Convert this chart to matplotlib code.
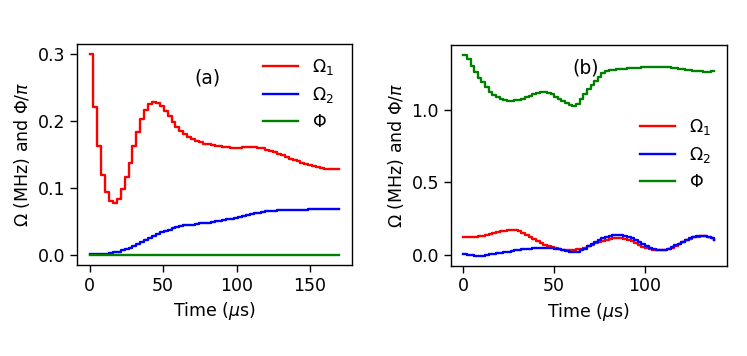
import numpy as np
import matplotlib
matplotlib.use("Agg")
import matplotlib.pyplot as plt

# ---------------- data: panel (a) ----------------
dt_a = 170.0 / 64
omega1_a = [0.300, 0.221, 0.163, 0.120, 0.094, 0.080, 0.077, 0.083, 0.098, 0.117,
            0.138, 0.162, 0.183, 0.203, 0.217, 0.225, 0.228, 0.227, 0.222, 0.215,
            0.207, 0.198, 0.191, 0.185, 0.180, 0.176, 0.173, 0.170, 0.168, 0.166,
            0.165, 0.164, 0.163, 0.162, 0.161, 0.161, 0.160, 0.160, 0.160, 0.161,
            0.161, 0.161, 0.161, 0.160, 0.159, 0.157, 0.155, 0.153, 0.151, 0.149,
            0.146, 0.144, 0.142, 0.140, 0.138, 0.136, 0.134, 0.133, 0.131, 0.130,
            0.129, 0.128, 0.128, 0.128, 0.128]
omega2_a = [0.001, 0.001, 0.001, 0.001, 0.002, 0.003, 0.004, 0.005, 0.007, 0.009,
            0.011, 0.013, 0.016, 0.019, 0.022, 0.025, 0.028, 0.031, 0.034, 0.036,
            0.038, 0.040, 0.042, 0.043, 0.044, 0.045, 0.045, 0.046, 0.047, 0.047,
            0.048, 0.049, 0.050, 0.051, 0.052, 0.053, 0.054, 0.055, 0.057, 0.058,
            0.060, 0.061, 0.062, 0.063, 0.064, 0.065, 0.066, 0.066, 0.067, 0.067,
            0.067, 0.067, 0.067, 0.067, 0.067, 0.067, 0.068, 0.068, 0.068, 0.068,
            0.068, 0.068, 0.068, 0.068, 0.069]
phi_a = [0.0] * 65

# ---------------- data: panel (b) ----------------
dt_b = 2.0
omega1_b = [0.128, 0.127, 0.126, 0.127, 0.130, 0.135, 0.141, 0.148, 0.154, 0.160,
            0.165, 0.169, 0.171, 0.172, 0.170, 0.165, 0.155, 0.142, 0.127, 0.112,
            0.098, 0.085, 0.073, 0.063, 0.055, 0.048, 0.043, 0.039, 0.037, 0.036,
            0.037, 0.040, 0.045, 0.052, 0.061, 0.071, 0.082, 0.092, 0.101, 0.108,
            0.114, 0.118, 0.119, 0.118, 0.113, 0.105, 0.095, 0.083, 0.071, 0.059,
            0.049, 0.041, 0.036, 0.034, 0.035, 0.037, 0.043, 0.052, 0.064, 0.077,
            0.090, 0.102, 0.113, 0.122, 0.128, 0.131, 0.130, 0.125, 0.115, 0.103]
omega2_b = [0.007, 0.004, 0.001, -0.002, -0.003, -0.002, 0.001, 0.005, 0.009, 0.013,
            0.017, 0.021, 0.025, 0.029, 0.033, 0.037, 0.040, 0.043, 0.046, 0.048,
            0.050, 0.051, 0.052, 0.051, 0.049, 0.045, 0.040, 0.034, 0.027, 0.022,
            0.020, 0.024, 0.033, 0.045, 0.060, 0.076, 0.092, 0.106, 0.118, 0.128,
            0.135, 0.139, 0.140, 0.139, 0.134, 0.126, 0.115, 0.102, 0.088, 0.074,
            0.061, 0.050, 0.041, 0.036, 0.035, 0.038, 0.045, 0.055, 0.067, 0.080,
            0.093, 0.105, 0.116, 0.125, 0.131, 0.134, 0.133, 0.128, 0.118, 0.105]
phi_b = [1.376, 1.350, 1.300, 1.260, 1.220, 1.190, 1.155, 1.120, 1.100, 1.085,
         1.073, 1.066, 1.063, 1.063, 1.065, 1.070, 1.077, 1.085, 1.095, 1.105,
         1.115, 1.122, 1.124, 1.118, 1.107, 1.090, 1.072, 1.058, 1.045, 1.035,
         1.028, 1.040, 1.075, 1.105, 1.140, 1.170, 1.200, 1.225, 1.250, 1.265,
         1.272, 1.276, 1.279, 1.281, 1.283, 1.285, 1.287, 1.288, 1.290, 1.291,
         1.293, 1.294, 1.295, 1.295, 1.295, 1.294, 1.292, 1.289, 1.285, 1.281,
         1.277, 1.273, 1.270, 1.267, 1.265, 1.263, 1.262, 1.262, 1.263, 1.263]

labels = [r'$\Omega_1$', r'$\Omega_2$', r'$\Phi$']
colors = ['red', 'blue', 'green']
ylabel = r'$\Omega$ (MHz) and $\Phi/\pi$'
xlabel = r'Time ($\mu$s)'

plt.rcParams['font.size'] = 12.5
plt.rcParams['font.family'] = ['DejaVu Sans']
plt.rcParams['mathtext.fontset'] = 'dejavusans'

fig = plt.figure(figsize=(7.47, 3.56), dpi=100)
ax1 = fig.add_axes([0.1031, 0.2556, 0.3681, 0.6208])
ax2 = fig.add_axes([0.6034, 0.2537, 0.3694, 0.6199])

t_a = np.arange(len(omega1_a)) * dt_a
t_b = np.arange(len(omega1_b)) * dt_b

for ax, t, series in [(ax1, t_a, (omega1_a, omega2_a, phi_a)),
                      (ax2, t_b, (omega1_b, omega2_b, phi_b))]:
    for y, c, lab in zip(series, colors, labels):
        ax.step(t, y, where='post', color=c, lw=1.7, label=lab)
    ax.set_xlabel(xlabel)
    ax.set_ylabel(ylabel)
    ax.tick_params(length=5, width=1.0)
    for s in ax.spines.values():
        s.set_linewidth(1.0)

ax1.set_xticks([0, 50, 100, 150])
ax1.set_yticks([0.0, 0.1, 0.2, 0.3])
ax2.set_xticks([0, 50, 100])
ax2.set_yticks([0.0, 0.5, 1.0])

ax1.legend(loc='upper right', frameon=False, fontsize=12.5,
           bbox_to_anchor=(0.99, 1.01), handlelength=2.0, labelspacing=0.45)
ax2.legend(loc='center right', frameon=False, fontsize=12.5,
           bbox_to_anchor=(1.0, 0.506), handlelength=2.0, labelspacing=0.45)

ax1.text(0.473, 0.846, '(a)', transform=ax1.transAxes, ha='center', va='center', fontsize=13.5)
ax2.text(0.49, 0.896, '(b)', transform=ax2.transAxes, ha='center', va='center', fontsize=13.5)

fig.savefig('out.png', dpi=100)
